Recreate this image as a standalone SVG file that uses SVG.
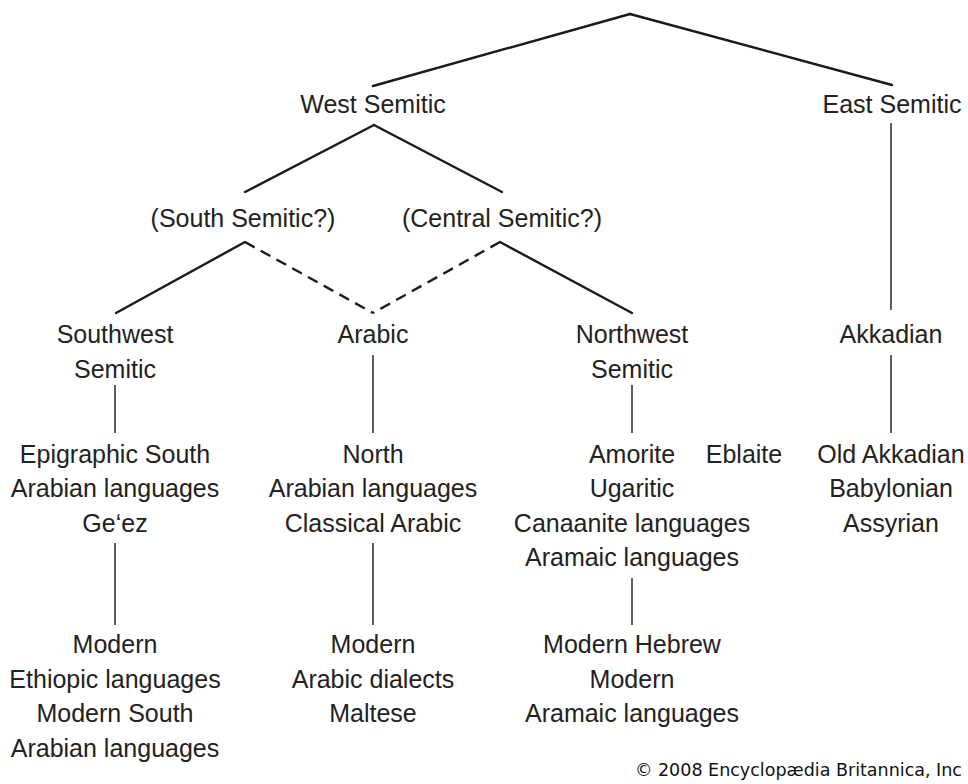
<svg xmlns="http://www.w3.org/2000/svg" width="968" height="784" viewBox="0 0 968 784">
<style>
  text { font-family: "Liberation Sans", Arial, sans-serif; font-size: 25px; fill: #222; text-anchor: middle; }
  .diag { stroke: #1a1a1a; stroke-width: 2.4; fill: none; stroke-linecap: round; }
  .vert { stroke: #1a1a1a; stroke-width: 1.4; fill: none; }
  .dash { stroke: #1a1a1a; stroke-width: 2.4; fill: none; stroke-dasharray: 11 7; }
  .copy { font-family: "DejaVu Sans", "Liberation Sans", sans-serif; font-size: 17.5px; text-anchor: end; fill: #111; }
</style>
<rect width="968" height="784" fill="#ffffff"/>
<g id="connectors">
  <line class="diag" x1="630" y1="14" x2="373" y2="86"/>
  <line class="diag" x1="630" y1="14" x2="892" y2="85"/>
  <line class="diag" x1="374" y1="125" x2="245" y2="192"/>
  <line class="diag" x1="374" y1="125" x2="502" y2="192"/>
  <line class="diag" x1="245" y1="242" x2="116" y2="313"/>
  <line class="diag" x1="500" y1="242" x2="632" y2="313"/>
  <line class="dash" x1="245" y1="242" x2="373" y2="313"/>
  <line class="dash" x1="500" y1="242" x2="373" y2="313"/>
  <line class="vert" x1="891" y1="123" x2="891" y2="310"/>
  <line class="vert" x1="115" y1="385" x2="115" y2="433"/>
  <line class="vert" x1="373" y1="355" x2="373" y2="433"/>
  <line class="vert" x1="632" y1="385" x2="632" y2="433"/>
  <line class="vert" x1="891" y1="355" x2="891" y2="433"/>
  <line class="vert" x1="115" y1="543" x2="115" y2="625"/>
  <line class="vert" x1="373" y1="543" x2="373" y2="625"/>
  <line class="vert" x1="632" y1="578" x2="632" y2="625"/>
</g>
<g id="west-semitic"><text x="373" y="113">West Semitic</text></g>
<g id="east-semitic"><text x="892" y="113">East Semitic</text></g>
<g id="south-semitic"><text x="243" y="227">(South Semitic?)</text></g>
<g id="central-semitic"><text x="502" y="227">(Central Semitic?)</text></g>
<g id="southwest-semitic"><text x="115" y="343">Southwest</text><text x="115" y="378">Semitic</text></g>
<g id="arabic"><text x="373" y="343">Arabic</text></g>
<g id="northwest-semitic"><text x="632" y="343">Northwest</text><text x="632" y="378">Semitic</text></g>
<g id="akkadian"><text x="891" y="343">Akkadian</text></g>
<g id="epigraphic"><text x="115" y="463">Epigraphic South</text><text x="115" y="497">Arabian languages</text><text x="115" y="532">Ge‘ez</text></g>
<g id="north-arabian"><text x="373" y="463">North</text><text x="373" y="497">Arabian languages</text><text x="373" y="532">Classical Arabic</text></g>
<g id="northwest-langs"><text x="632" y="463">Amorite</text><text x="632" y="497">Ugaritic</text><text x="632" y="532">Canaanite languages</text><text x="632" y="566">Aramaic languages</text></g>
<g id="eblaite"><text x="744" y="463">Eblaite</text></g>
<g id="akkadian-langs"><text x="891" y="463">Old Akkadian</text><text x="891" y="497">Babylonian</text><text x="891" y="532">Assyrian</text></g>
<g id="modern-ethiopic"><text x="115" y="653">Modern</text><text x="115" y="688">Ethiopic languages</text><text x="115" y="722">Modern South</text><text x="115" y="757">Arabian languages</text></g>
<g id="modern-arabic"><text x="373" y="653">Modern</text><text x="373" y="688">Arabic dialects</text><text x="373" y="722">Maltese</text></g>
<g id="modern-hebrew"><text x="632" y="653">Modern Hebrew</text><text x="632" y="688">Modern</text><text x="632" y="722">Aramaic languages</text></g>
<text class="copy" x="962" y="776">© 2008 Encyclopædia Britannica, Inc</text>
</svg>
